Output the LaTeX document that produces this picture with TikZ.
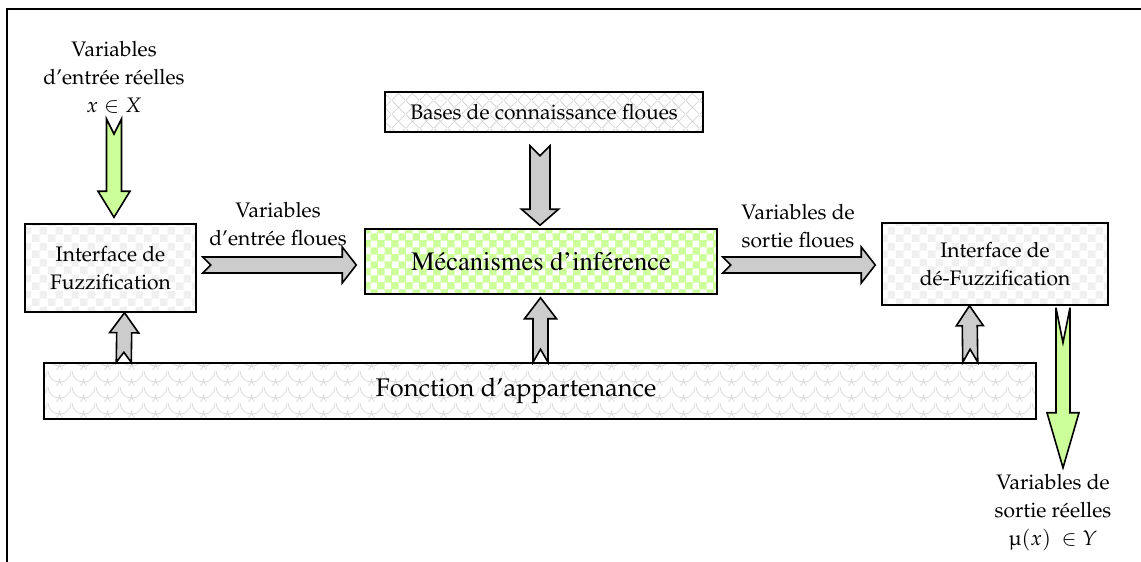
\documentclass[tikz,border=0pt]{standalone}
\usepackage[T1]{fontenc}
\usepackage{mathpazo}
\usepackage{textcomp}
\usetikzlibrary{calc,patterns.meta}

\definecolor{softgreen}{HTML}{CCFF99}
\definecolor{arrowgray}{HTML}{CCCCCC}

% fill textures
\tikzdeclarepattern{
  name=checks, type=uncolored,
  bottom left={(0pt,0pt)}, top right={(16pt,16pt)}, tile size={(16pt,16pt)},
  code={\fill (0pt,0pt) rectangle (8pt,8pt); \fill (8pt,8pt) rectangle (16pt,16pt);}
}
\tikzdeclarepattern{
  name=smallchecks, type=uncolored,
  bottom left={(0pt,0pt)}, top right={(14pt,14pt)}, tile size={(14pt,14pt)},
  code={\fill (0pt,0pt) rectangle (7pt,7pt); \fill (7pt,7pt) rectangle (14pt,14pt);}
}
\tikzdeclarepattern{
  name=lattice, type=uncolored,
  bottom left={(0pt,0pt)}, top right={(14pt,14pt)}, tile size={(14pt,14pt)},
  code={\draw[line width=0.8pt] (0pt,0pt) -- (14pt,14pt) (0pt,14pt) -- (14pt,0pt);}
}
\tikzdeclarepattern{
  name=scales, type=uncolored,
  bottom left={(0pt,0pt)}, top right={(24pt,16pt)}, tile size={(24pt,16pt)},
  code={\draw[line width=0.8pt] (0pt,16pt) arc[start angle=180,end angle=360,radius=12pt]
        (-12pt,8pt) arc[start angle=180,end angle=360,radius=12pt]
        (12pt,8pt) arc[start angle=180,end angle=360,radius=12pt];}
}

\newcommand\palfont{\fontsize{21}{28}\selectfont}
\newcommand\bigpal{\fontsize{25.5}{30}\selectfont}
\newcommand\bigtimes{\fontfamily{ptm}\fontsize{26.5}{30}\selectfont}

\tikzset{
  box/.style={draw, line width=1.5pt, inner sep=0pt, align=center, font=\palfont},
  checkbox/.style={box, fill=white, pattern=checks, pattern color=black!6},
  latticebox/.style={box, preaction={fill=white}, pattern=lattice, pattern color=black!16},
  scalebox/.style={box, preaction={fill=white}, pattern=scales, pattern color=black!14},
  greenbox/.style={box, preaction={fill=softgreen}, pattern=smallchecks, pattern color=white},
  caption/.style={align=center, inner sep=0pt, font=\palfont},
  arrowstroke/.style={draw, line width=1.6pt, line join=miter, miter limit=10}
}

% notched block arrow: #1 tail, #2 tip, #3 half shaft, #4 half head,
% #5 head length, #6 notch depth, #7 fill colour
\newcommand\blockarrow[7]{%
  \coordinate (ba-h) at ($(#2)!#5!(#1)$);
  \path[arrowstroke, fill=#7]
    ($(#1)!#3!90:(#2)$) -- ($(ba-h)!#3!90:(#2)$) -- ($(ba-h)!#4!90:(#2)$) -- (#2)
    -- ($(ba-h)!#4!-90:(#2)$) -- ($(ba-h)!#3!-90:(#2)$) -- ($(#1)!#3!-90:(#2)$)
    -- ($(#1)!#6!(#2)$) -- cycle;
}

\begin{document}
\begin{tikzpicture}[x=1pt,y=-1pt]
\useasboundingbox (0,0) rectangle (1141,562);
\begin{scope}
  \clip (0,0) rectangle (1141,562);
  \draw[line width=2pt] (7,9) rectangle (1200,620);
\end{scope}

% blocks
\node[checkbox, minimum width=171, minimum height=88] (fuzz) at (110.5,268) {Interface de\\Fuzzification};
\node[greenbox, minimum width=352, minimum height=65, font=\bigtimes] (mec) at (541,261.5) {M\'ecanismes d'inf\'erence};
\node[latticebox, minimum width=318, minimum height=40] (bases) at (544,112) {Bases de connaissance floues};
\node[checkbox, minimum width=226, minimum height=82] (defuzz) at (995,264) {Interface de\\d\'e-Fuzzification};
\node[scalebox, minimum width=992, minimum height=56, font=\bigpal] (fonc) at (540,391) {Fonction d'appartenance\hspace*{48pt}};

% captions
\node[caption] (inlab) at (114,77) {Variables\\d'entr\'ee r\'eelles\\$x \in X$};
\node[caption] (flin) at (278,224) {Variables\\d'entr\'ee floues};
\node[caption] (flout) at (798,226) {Variables de\\sortie floues};
\node[caption] (outlab) at (1053,513) {Variables de\\sortie r\'eelles\\\textmu$(x)$\ \ $\in Y$};

% arrow ends
\coordinate (a1s) at ($(fuzz.east)+(6,-3)$);
\coordinate (a1e) at ($(mec.west)+(-8,3.5)$);
\coordinate (a2s) at ($(mec.east)+(5,3.5)$);
\coordinate (a2e) at ($(defuzz.west)+(-6,1)$);
\coordinate (a3s) at ($(bases.south)+(-4,13)$);
\coordinate (a3e) at ($(mec.north)+(-1,-3)$);
\coordinate (a4s) at ($(fonc.north west)+(80.5,0)$);
\coordinate (a4e) at ($(fuzz.south)+(14,0)$);
\coordinate (a5s) at ($(fonc.north)+(0.5,0)$);
\coordinate (a5e) at ($(mec.south)+(-0.5,3)$);
\coordinate (a6s) at ($(fonc.north east)+(-66.5,0)$);
\coordinate (a6e) at ($(defuzz.south)+(-25.5,0)$);
\coordinate (a7s) at (114,119);
\coordinate (a7e) at ($(fuzz.north)+(3.5,-6)$);
\coordinate (a8s) at ($(defuzz.south)+(68,2)$);
\coordinate (a8e) at ($(defuzz.south)+(68,162)$);

% connectors
\blockarrow{a1s}{a1e}{8pt}{18pt}{14pt}{8pt}{arrowgray}
\blockarrow{a2s}{a2e}{8pt}{18pt}{14pt}{8pt}{arrowgray}
\blockarrow{a3s}{a3e}{10pt}{18.5pt}{16pt}{10pt}{arrowgray}
\blockarrow{a4s}{a4e}{7.5pt}{14.5pt}{20pt}{10pt}{arrowgray}
\blockarrow{a5s}{a5e}{7.5pt}{16pt}{21pt}{13pt}{arrowgray}
\blockarrow{a6s}{a6e}{7.5pt}{13.5pt}{20pt}{13pt}{arrowgray}
\blockarrow{a7s}{a7e}{7.5pt}{16pt}{26pt}{15pt}{softgreen}
\blockarrow{a8s}{a8e}{7pt}{16pt}{55pt}{35pt}{softgreen}
\end{tikzpicture}
\end{document}
